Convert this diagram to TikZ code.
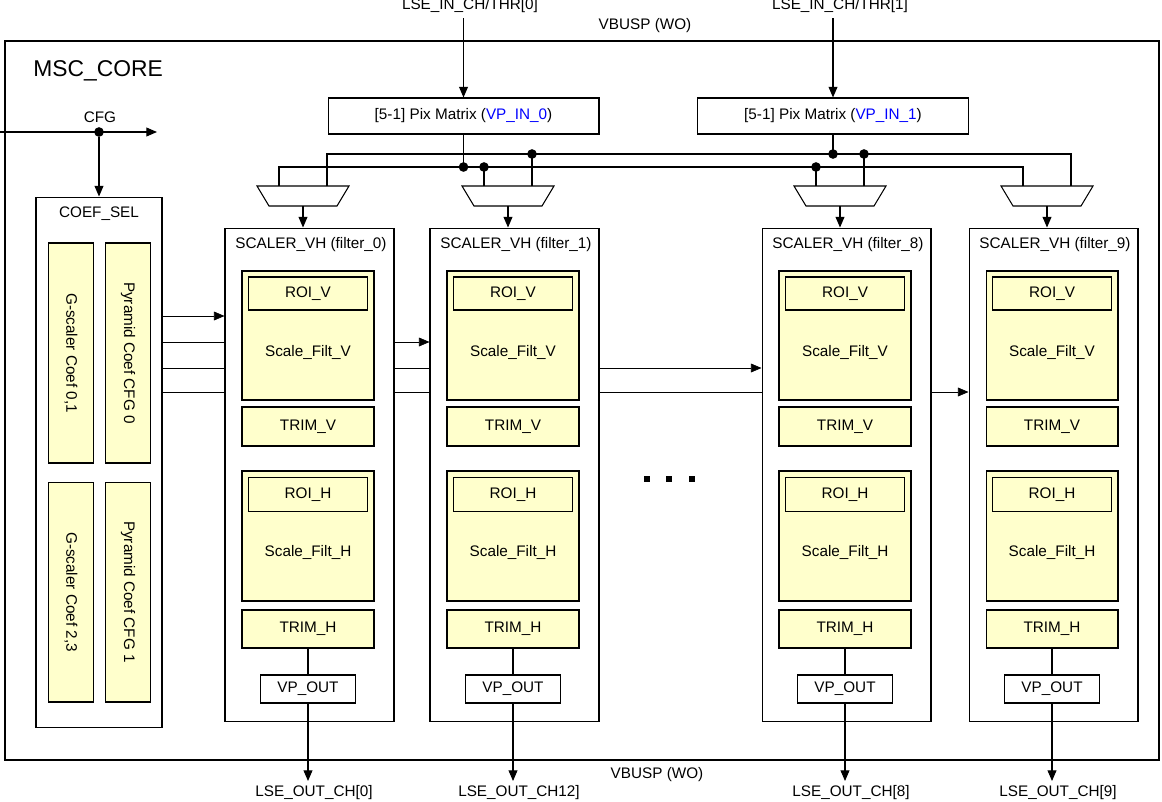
\documentclass[tikz,border=0pt]{standalone}
\usepackage{fontspec}
\setmainfont{Liberation Sans}
\usepackage{tikz}
\usetikzlibrary{positioning,arrows.meta,shapes.geometric,backgrounds,calc}
\definecolor{cellfill}{RGB}{255,255,204}
\definecolor{portblue}{RGB}{0,0,255}

\begin{document}
\begin{tikzpicture}[x=0.02cm,y=-0.02cm,font=\fontsize{8.7}{10}\selectfont,
  >={Triangle[length=6pt,width=5pt]},line width=0.6pt,
  blk/.style={draw,fill=white,inner sep=0pt},
  cell/.style={draw,fill=cellfill,inner sep=0pt},
  roi/.style={draw,inner sep=0pt,minimum width=2.38cm},
  jn/.style={circle,fill,inner sep=0pt,minimum size=5.5pt}]
\useasboundingbox (0,0) rectangle (1162,801);

% core frame
\draw (5,41) rectangle (1159,760);
\node[anchor=west,font=\fontsize{13}{15}\selectfont] (core) at (27,71) {MSC\_CORE};
\node (vbt) at (645,26) {VBUSP (WO)};
\node (vbb) at (657,775) {VBUSP (WO)};

% input pixel matrices
\node[blk,minimum width=5.42cm,minimum height=0.72cm] (mx0) at (463.5,116)
  {[5-1] Pix Matrix (\textcolor{portblue}{VP\_IN\_0})};
\node[blk,minimum width=5.42cm,minimum height=0.72cm] (mx1) at (833,116)
  {[5-1] Pix Matrix (\textcolor{portblue}{VP\_IN\_1})};
\node (lin0) at (470,6) {LSE\_IN\_CH/THR[0]};
\node (lin1) at (840,6) {LSE\_IN\_CH/THR[1]};
\coordinate (src0) at (463.5,18);
\coordinate (src1) at (833,18);
\draw[->] (src0) -- (mx0);
\draw[->] (src1) -- (mx1);

% coefficient select
\coordinate (cfgin) at (0,132);
\coordinate (cfgout) at (157,132);
\node[blk,minimum width=2.52cm,minimum height=10.62cm] (coef) at (99,462.5) {};
\node (coefl) at (99,214) {COEF\_SEL};
\node (cfgl) at (100,117) {CFG};
\draw[->] (cfgin) -- (cfgout);
\node[jn] (cfgj) at (99,132) {};
\draw[->] (cfgj) -- (coef);
\node[cell,rotate=-90,minimum width=4.4cm,minimum height=0.9cm] (g01) at (71,353) {G-scaler Coef 0,1};
\node[cell,rotate=-90,minimum width=4.4cm,minimum height=0.9cm] (p0) at (128,353) {Pyramid Coef CFG 0};
\node[cell,rotate=-90,minimum width=4.4cm,minimum height=0.9cm] (g23) at (71,592) {G-scaler Coef 2,3};
\node[cell,rotate=-90,minimum width=4.4cm,minimum height=0.9cm] (p1) at (128,592) {Pyramid Coef CFG 1};
\coordinate (cs1) at (162,316);
\coordinate (cs2) at (162,342);
\coordinate (cs3) at (162,368);
\coordinate (cs4) at (162,392);

% scaler filters
\foreach \i/\cx/\out in {0/308/{[0]},1/513/{12]},8/845/{[8]},9/1052/{[9]}} {
  \node[blk,minimum width=3.38cm,minimum height=9.88cm] (f\i) at (\cx+1.5,475) {};
  \node (ft\i) at (\cx+3,245) {SCALER\_VH (filter\_\i)};
  \node[cell,minimum width=2.64cm,minimum height=2.58cm] (sv\i) at (\cx,335.5) {};
  \node[roi,minimum height=0.66cm] (rv\i) at (\cx,293.5) {ROI\_V};
  \node (sfv\i) at (\cx,352) {Scale\_Filt\_V};
  \node[cell,minimum width=2.64cm,minimum height=0.78cm] (tv\i) at (\cx,426.5) {TRIM\_V};
  \node[cell,minimum width=2.64cm,minimum height=2.6cm] (sh\i) at (\cx,536) {};
  \node[roi,minimum height=0.68cm] (rh\i) at (\cx,494.5) {ROI\_H};
  \node (sfh\i) at (\cx,552) {Scale\_Filt\_H};
  \node[cell,minimum width=2.64cm,minimum height=0.76cm] (th\i) at (\cx,629) {TRIM\_H};
  \node[blk,minimum width=1.9cm,minimum height=0.56cm] (vp\i) at (\cx,689) {VP\_OUT};
  \coordinate (o\i) at (\cx,781);
  \node (ol\i) at (\cx+6,793) {LSE\_OUT\_CH\out};
  \draw (th\i) -- (vp\i);
  \draw[->] (vp\i) -- (o\i);
  % mux in front of the filter
  \draw[fill=white] (\cx-51,186) -- (\cx+41,186) -- (\cx+29,206) -- (\cx-39,206) -- cycle;
  \coordinate (m\i) at (\cx-5,206);
  \coordinate (ml\i) at (\cx-29,186);
  \coordinate (mr\i) at (\cx+19,186);
  \draw[->] (m\i) -- (m\i |- f\i.north);
}

% pixel buses to muxes
\coordinate (upbus) at (0,154);
\coordinate (lowbus) at (0,167);
\draw (ml0) |- (ml9 |- lowbus) -- (ml9);
\draw (mr0) |- (mr9 |- upbus) -- (mr9);
\foreach \i in {1,8} {
  \draw (ml\i) -- (ml\i |- lowbus) node[jn] (jl\i) {};
  \draw (mr\i) -- (mr\i |- upbus) node[jn] (jr\i) {};
}
\draw (mx0) -- (mx0 |- lowbus) node[jn] (j0) {};
\draw (mx1) -- (mx1 |- upbus) node[jn] (j1) {};

% coefficient lines, behind the filters
\begin{scope}[on background layer]
\draw[->] (cs1) -- (cs1 -| f0.west);
\draw[->] (cs2) -- (cs2 -| f1.west);
\draw[->] (cs3) -- (cs3 -| f8.west);
\draw[->] (cs4) -- (cs4 -| f9.west);
\end{scope}

% more filters
\foreach \x in {647,669,692}
  \fill (\x-3,476) rectangle +(6,6);
\end{tikzpicture}
\end{document}
